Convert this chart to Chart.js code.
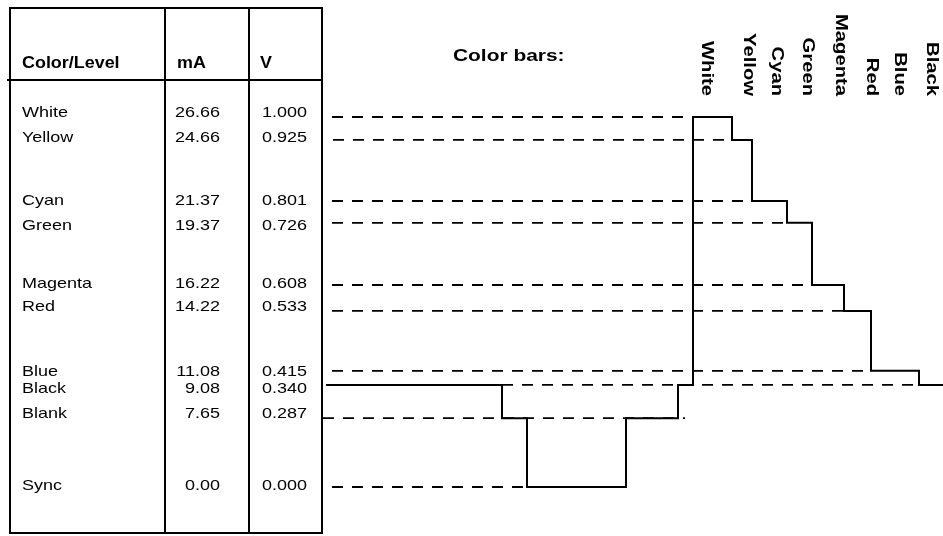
<!DOCTYPE html>
<html>
<head>
<meta charset="utf-8">
<script src="https://cdn.jsdelivr.net/npm/chart.js@4.4.1/dist/chart.umd.min.js"></script>
<style>
  html, body { margin: 0; padding: 0; background: #fff; }
  #wrap { position: relative; width: 943px; height: 536px; overflow: hidden;
          font-family: "Liberation Sans", Arial, sans-serif; color: #000; }
  #wrap canvas { position: absolute; left: 0; top: 0; }
  .rule { position: absolute; background: #000; }
  .cell { position: absolute; font-size: 15px; line-height: 20px; white-space: nowrap;
          transform: scaleX(1.2); transform-origin: left center; }
  .head { font-weight: bold; font-size: 16px; transform: scaleX(1.12); }
  .num { text-align: right; transform-origin: right center; }
  #title { position: absolute; left: 453px; top: 46px; font-size: 17px; font-weight: bold;
           line-height: 20px; white-space: nowrap; transform: scaleX(1.23); transform-origin: left center; }
</style>
</head>
<body>
<div id="wrap">
  <canvas id="wave"></canvas>
  <div id="table"></div>
  <div id="title">Color bars:</div>
</div>
<script>
// levels, top to bottom as in the table
var levelNames = ["White", "Yellow", "Cyan", "Green", "Magenta", "Red", "Blue", "Black", "Blank", "Sync"];
var levelMilliamps = [26.66, 24.66, 21.37, 19.37, 16.22, 14.22, 11.08, 9.08, 7.65, 0.00];
var levelVolts = [1.000, 0.925, 0.801, 0.726, 0.608, 0.533, 0.415, 0.340, 0.287, 0.000];

// the video line: time where each step starts and the level it sits at (last = end)
var waveTime = [4, 180, 205, 304, 356, 371, 410, 430, 465, 490, 522, 549, 597, 621];
var waveLevel = ["Black", "Blank", "Sync", "Blank", "Black", "White", "Yellow", "Cyan",
                 "Green", "Magenta", "Red", "Blue", "Black", "Black"];

// dashed reference line for each level: start and end on the time axis
var guideFrom = [10, 11, 10, 10, 10, 10, 10, 180, 1, 10];
var guideTo = [363, 408, 421, 467, 488, 521, 548, 597, 363, 205];

// bar names written above the bars
var barNames = ["White", "Yellow", "Cyan", "Green", "Magenta", "Red", "Blue", "Black"];
var barLabelAt = [385, 427, 455, 486, 519, 550, 578, 610];

// the drawing is schematic: levels sit next to their table rows, not to scale
var levelSpot = [1.000, 0.938, 0.773, 0.714, 0.546, 0.476, 0.314, 0.276, 0.186, 0.000];
var rowTop = [101.5, 126.5, 190, 214.5, 273, 296, 360.5, 377.5, 402.5, 475];

function voltOf(name) {
    return levelVolts[levelNames.indexOf(name)];
}

function toSpot(v) {
    for (var i = 0; i < levelVolts.length - 1; i++) {
        var hi = levelVolts[i], lo = levelVolts[i + 1];
        if (v <= hi && v >= lo) {
            var f = hi === lo ? 0 : (v - lo) / (hi - lo);
            return levelSpot[i + 1] + f * (levelSpot[i] - levelSpot[i + 1]);
        }
    }
    return v;
}

// linear scale that places the levels at their schematic positions
class SchematicScale extends Chart.LinearScale {
    getPixelForValue(value) {
        return super.getPixelForValue(toSpot(value));
    }
}
SchematicScale.id = "schematic";
SchematicScale.defaults = Chart.LinearScale.defaults;
Chart.register(SchematicScale);

//table on the left
var table = document.getElementById("table");
function addRule(l, t, w, h) {
    var d = document.createElement("div");
    d.className = "rule";
    d.style.cssText = "left:" + l + "px;top:" + t + "px;width:" + w + "px;height:" + h + "px";
    table.appendChild(d);
}
function addCell(text, cls, l, t, w) {
    var d = document.createElement("div");
    d.className = "cell " + cls;
    d.style.left = l + "px";
    d.style.top = t + "px";
    if (w) d.style.width = w + "px";
    d.textContent = text;
    table.appendChild(d);
}
addRule(9, 7, 314, 2);
addRule(9, 532, 314, 2);
addRule(9, 7, 2, 527);
addRule(321, 7, 2, 527);
addRule(164, 7, 2, 527);
addRule(248, 7, 2, 527);
addRule(7, 79, 316, 2);
addCell("Color/Level", "head", 22, 53);
addCell("mA", "head", 177, 53);
addCell("V", "head", 260, 53);
levelNames.forEach(function(name, i) {
    addCell(name, "", 22, rowTop[i]);
    addCell(levelMilliamps[i].toFixed(2), "num", 150, rowTop[i], 70);
    addCell(levelVolts[i].toFixed(3), "", 262, rowTop[i]);
});

//datasets: dashed level lines + the stepped waveform
var datasets = levelNames.map(function(name, i) {
    return {
        label: name,
        data: [{x: guideFrom[i], y: levelVolts[i]}, {x: guideTo[i], y: levelVolts[i]}],
        borderColor: "#000",
        borderWidth: 1.8,
        borderDash: [11, 9],
        pointRadius: 0,
        fill: false,
        clip: false
    };
});
datasets.push({
    label: "Signal",
    data: waveTime.map(function(t, i) { return {x: t, y: voltOf(waveLevel[i])}; }),
    borderColor: "#000",
    borderWidth: 2,
    stepped: true,
    pointRadius: 0,
    fill: false,
    clip: false
});

//rotated bar names over the bars
var barLabels = {
    id: "barLabels",
    afterDraw: function(chart) {
        var ctx = chart.ctx, xs = chart.scales.x;
        ctx.save();
        ctx.font = "bold 17px 'Liberation Sans', Arial, sans-serif";
        ctx.fillStyle = "#000";
        ctx.textAlign = "right";
        ctx.textBaseline = "middle";
        barNames.forEach(function(name, i) {
            ctx.save();
            ctx.translate(xs.getPixelForValue(barLabelAt[i]), chart.chartArea.top - 21);
            ctx.rotate(Math.PI / 2);
            ctx.scale(1.19, 1);
            ctx.fillText(name, 0, 0);
            ctx.restore();
        });
        ctx.restore();
    }
};

var canvas = document.getElementById("wave");
canvas.width = 943;
canvas.height = 536;
var chart = new Chart(canvas, {
    type: "line",
    data: { datasets: datasets },
    options: {
        responsive: false,
        animation: false,
        events: [],
        layout: { padding: { left: 322, right: 0, top: 117, bottom: 49 } },
        plugins: {
            legend: { display: false },
            title: { display: false },
            tooltip: { enabled: false }
        },
        scales: {
            x: { type: "linear", min: 0, max: 621, display: false },
            y: { type: "schematic", min: 0, max: 1, display: false }
        }
    },
    plugins: [barLabels]
});
</script>
</body>
</html>
